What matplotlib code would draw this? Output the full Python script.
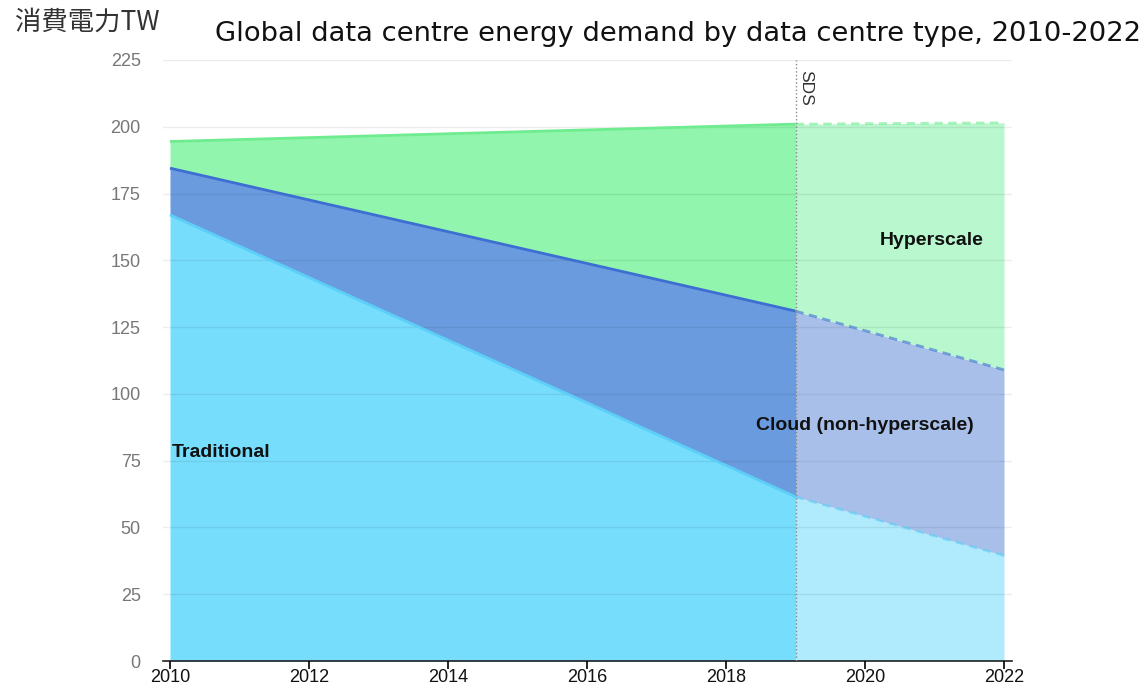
import numpy as np
import matplotlib
matplotlib.use('Agg')
import matplotlib.pyplot as plt

matplotlib.rcParams['font.family'] = ['Liberation Sans', 'DejaVu Sans']

# data (TWh, stacked tops)
years = [2010, 2019, 2022]
traditional = [167, 61.5, 39.5]
cloud = [17.5, 69.5, 69.5]          # cloud on top of traditional
hyperscale = [10, 70, 92.5]          # hyperscale on top of cloud
split_year = 2019

yticks = [0, 25, 50, 75, 100, 125, 150, 175, 200, 225]
xticks = [2010, 2012, 2014, 2016, 2018, 2020, 2022]

title = 'Global data centre energy demand by data centre type, 2010-2022'
ylabel = '消費電力TW'

# colours: (actual fill, projection fill, edge)
c_trad = ('#77ddfd', '#b0ebfd', '#5ccff8')
c_cloud = ('#6b9bdf', '#a8c0e9', '#3d6ed2')
c_hyper = ('#91f5ad', '#b9f7ce', '#70ec90')

x = np.array(years, dtype=float)
t1 = np.array(traditional)
t2 = t1 + np.array(cloud)
t3 = t2 + np.array(hyperscale)

fig = plt.figure(figsize=(11.43, 6.88), dpi=100)
ax = fig.add_axes([163/1143, 1 - 661/688, (1012-163)/1143, (661-60)/688])

act = x <= split_year
prj = x >= split_year
layers = [(np.zeros_like(t1), t1, c_trad), (t1, t2, c_cloud), (t2, t3, c_hyper)]
for lo, hi, c in layers:
    ax.fill_between(x[act], lo[act], hi[act], color=c[0], lw=0, zorder=1)
    ax.fill_between(x[prj], lo[prj], hi[prj], color=c[1], lw=0, zorder=1)
    ax.plot(x[act], hi[act], color=c[2], lw=2, zorder=3, solid_capstyle='butt')
    ax.plot(x[prj], hi[prj], color=c[2], lw=2, ls=(0, (3, 2)), alpha=0.6, zorder=3)

ax.axvline(split_year, ymin=0, ymax=1, color='#888888', lw=1, ls=':', zorder=4)
ax.text(split_year + 0.14, 214.5, 'SDS', rotation=270, ha='center', va='center',
        fontsize=12.5, color='#333333')

ax.text(2010.03, 78, 'Traditional', fontsize=14, fontweight='bold', color='#111111',
        ha='left', va='center', zorder=5)
ax.text(2020.0, 88, 'Cloud (non-hyperscale)', fontsize=14, fontweight='bold',
        color='#111111', ha='center', va='center', zorder=5)
ax.text(2020.96, 157.6, 'Hyperscale', fontsize=14, fontweight='bold', color='#111111',
        ha='center', va='center', zorder=5)

ax.set_xlim(2010 - 7/69.5, 2022 + 8/69.5)
ax.set_ylim(0, 225)
ax.set_yticks(yticks)
ax.set_xticks(xticks)
ax.yaxis.grid(True, color='#000000', alpha=0.07, lw=1, zorder=2)
ax.set_axisbelow(False)
for s in ['top', 'right', 'left']:
    ax.spines[s].set_visible(False)
ax.spines['bottom'].set_color('#222222')
ax.spines['bottom'].set_linewidth(1.2)
ax.tick_params(axis='y', length=0, labelsize=13, labelcolor='#777777', pad=16)
ax.tick_params(axis='x', length=6, width=1.2, direction='out', labelsize=13,
               labelcolor='#111111', pad=0)

fig.text(15/1143, 1 - 22/688, ylabel, fontsize=19, color='#333333', ha='left', va='center',
         family=['Noto Sans CJK JP', 'DejaVu Sans'])
fig.text(215/1143, 1 - 34/688, title, fontsize=19.7, color='#111111', ha='left', va='center',
         family=['DejaVu Sans'])

plt.savefig('out.png', dpi=100)
